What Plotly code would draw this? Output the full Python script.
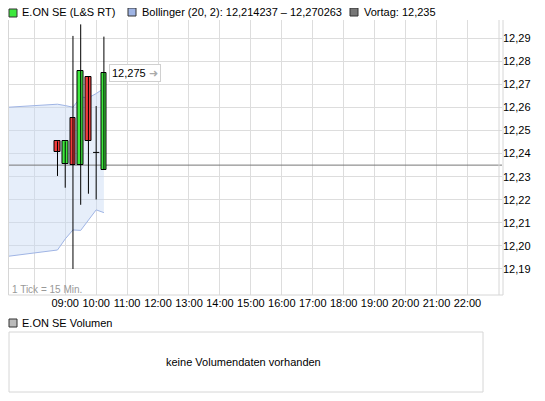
import plotly.graph_objects as go
import pandas as pd

OFF = 8  # page body margin
W, H = 545 - OFF, 401 - OFF
day = "2024-01-02 "
times = ["08:45", "09:00", "09:15", "09:30", "09:45", "10:00", "10:15"]
opens = [12.2453, 12.2353, 12.2555, 12.2350, 12.2733, 12.2405, 12.2331]
closes = [12.2405, 12.2453, 12.2350, 12.2759, 12.2453, 12.2405, 12.2750]
highs = [12.2453, 12.2453, 12.2910, 12.2960, 12.2733, 12.2606, 12.2907]
lows = [12.2303, 12.2252, 12.1900, 12.2178, 12.2226, 12.2201, 12.2331]

band_times = ["07:10", "08:45", "09:00", "09:15", "09:30", "09:45", "10:00", "10:15"]
band_upper = [12.2601, 12.2614, 12.2608, 12.2601, 12.2645, 12.2642, 12.2660, 12.2683]
band_lower = [12.1955, 12.1982, 12.2030, 12.2069, 12.2067, 12.2110, 12.2156, 12.2144]

prev_close = 12.235
last_label = "12,275"
y_ticks = [12.19, 12.20, 12.21, 12.22, 12.23, 12.24, 12.25, 12.26, 12.27, 12.28, 12.29]
hour_ticks = ["08:00"] + ["%02d:00" % h for h in range(9, 23)]
hour_labels = [""] + ["%02d:00" % h for h in range(9, 23)]

T = [pd.Timestamp(day + t) for t in times]
BT = [pd.Timestamp(day + t) for t in band_times]
xr = [pd.Timestamp(day + "07:10"), pd.Timestamp(day + "23:07")]
yr = [12.1787, 12.2979]

fig = go.Figure()
fig.add_trace(go.Scatter(x=BT, y=band_lower, mode="lines", line=dict(color="#9fb4e4", width=1), hoverinfo="skip"))
fig.add_trace(go.Scatter(x=BT, y=band_upper, mode="lines", line=dict(color="#9fb4e4", width=1),
                         fill="tonexty", fillcolor="rgba(200,218,245,0.45)", hoverinfo="skip"))
fig.add_trace(go.Scatter(x=xr, y=[prev_close, prev_close], mode="lines", line=dict(color="#777777", width=1),
                         hoverinfo="skip"))

wx, wy = [], []
for t, h, l in zip(T, highs, lows):
    wx += [t, t, None]; wy += [h, l, None]
for t, o, c in zip(T, opens, closes):
    if abs(o - c) < 1e-9:
        d = pd.Timedelta(minutes=6)
        wx += [t - d, t + d, None]; wy += [o, o, None]
fig.add_trace(go.Scatter(x=wx, y=wy, mode="lines", line=dict(color="black", width=1), hoverinfo="skip",
                         xaxis="x2", yaxis="y2"))

bx, bbase, bh, bc = [], [], [], []
for t, o, c in zip(T, opens, closes):
    if abs(o - c) < 1e-9:
        continue
    bx.append(t); bbase.append(min(o, c)); bh.append(abs(c - o))
    bc.append("#3ee83e" if c > o else "#f03c3c")
fig.add_trace(go.Bar(x=bx, y=bh, base=bbase, width=11 * 60 * 1000, xaxis="x2", yaxis="y2",
                     marker=dict(color=bc, line=dict(color="black", width=1)), hoverinfo="skip"))

def px(x): return (x - OFF) / W
def py(y): return 1 - (y - OFF) / H

FONT = "Liberation Sans"
fig.update_layout(
    width=W, height=H, margin=dict(l=0, r=0, t=0, b=0), showlegend=False,
    paper_bgcolor="white", plot_bgcolor="white", separators=",.",
    font=dict(family=FONT, size=11, color="black"),
    xaxis=dict(domain=[px(8.5), px(502)], type="date", range=xr,
               tickvals=[pd.Timestamp(day + t) for t in hour_ticks], ticktext=hour_labels,
               showgrid=True, gridcolor="#dddddd", ticks="", zeroline=False, showline=False,
               tickfont=dict(size=11)),
    yaxis=dict(domain=[py(295), py(20)], range=yr, side="right",
               tickvals=y_ticks, tickformat=".2f", showgrid=True, gridcolor="#dddddd",
               zeroline=False, showline=False, ticks="", tickfont=dict(size=11)),
    xaxis2=dict(domain=[px(8.5), px(502)], type="date", range=xr, overlaying="x", visible=False),
    yaxis2=dict(range=yr, overlaying="y", visible=False),
    bargap=0,
)

shapes = []
for x in [8.5, 499, 503]:
    shapes.append(dict(type="line", xref="paper", yref="paper", x0=px(x), x1=px(x), y0=py(295), y1=py(20),
                       line=dict(color="#d6d6d6", width=1)))
shapes.append(dict(type="line", xref="paper", yref="paper", x0=px(8.5), x1=px(503), y0=py(295), y1=py(295),
                   line=dict(color="#d6d6d6", width=1)))
for x0, y0, col in [(9, 9, "#3ee83e"), (128, 3, "#9fb4e4"), (350, 3, "#777777"), (9, 319, "#bbbbbb")]:
    shapes.append(dict(type="rect", xref="paper", yref="paper", x0=px(x0), x1=px(x0 + 8), y0=py(max(y0, 8) + 8),
                       y1=py(max(y0, 8)), fillcolor=col, line=dict(color="#333333", width=1)))
shapes.append(dict(type="rect", xref="paper", yref="paper", x0=px(9), x1=px(483), y0=py(392), y1=py(332),
                   line=dict(color="#d6d6d6", width=1), fillcolor="white"))
fig.update_layout(shapes=shapes)

ann = [
    dict(text="E.ON SE (L&S RT)", x=px(20), y=py(12)),
    dict(text="Bollinger (20, 2): 12,214237 – 12,270263", x=px(140), y=py(12)),
    dict(text="Vortag: 12,235", x=px(362), y=py(12)),
    dict(text="E.ON SE Volumen", x=px(20), y=py(323)),
    dict(text="1 Tick = 15 Min.", x=px(10), y=py(289), font=dict(color="#999999", size=10)),
    dict(text="keine Volumendaten vorhanden", x=px(243), y=py(362), xanchor="center", font=dict(size=11)),
]
annotations = []
for a in ann:
    d = dict(xref="paper", yref="paper", showarrow=False, xanchor="left", yanchor="middle")
    d.update(a)
    annotations.append(d)
annotations.append(dict(x=T[-1], y=closes[-1], xref="x", yref="y", xanchor="left", yanchor="middle", xshift=5,
                        showarrow=False, text=last_label + " <span style='color:#aaaaaa'>➜</span>",
                        bgcolor="white", bordercolor="#d0d0d0", borderwidth=1, borderpad=2, font=dict(size=11)))
fig.update_layout(annotations=annotations)

fig.write_html("out.html")
